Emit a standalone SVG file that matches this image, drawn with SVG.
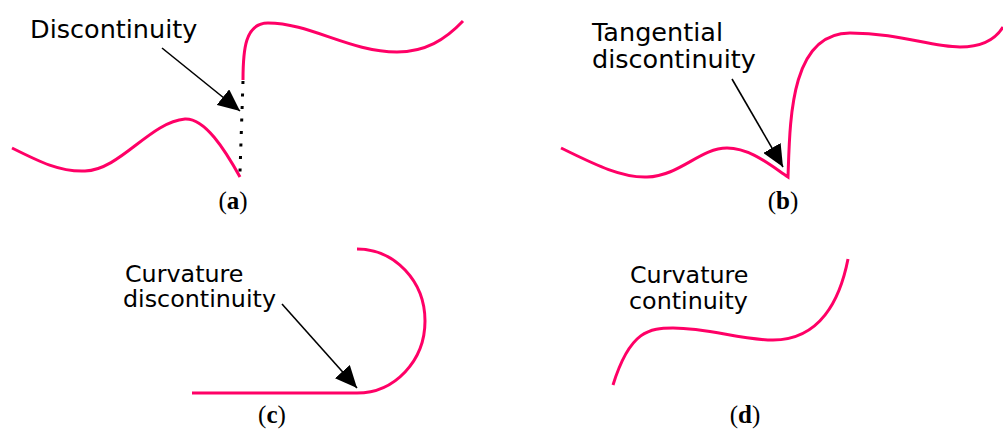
<svg xmlns="http://www.w3.org/2000/svg" width="1003" height="430" viewBox="0 0 1003 430">
<style>
.curve{fill:none;stroke:#ff0066;stroke-width:3;stroke-linecap:butt}
.lbl{font-family:"DejaVu Sans",sans-serif;font-size:25.5px;fill:#000}
.sm{font-size:23.8px}
.cap{font-family:"Liberation Serif",serif;font-size:25px;fill:#000;text-anchor:middle}
.arr{stroke:#000;stroke-width:1.6;fill:none;marker-end:url(#ah)}
</style>
<defs>
<marker id="ah" markerUnits="userSpaceOnUse" markerWidth="24" markerHeight="20" refX="22" refY="10" orient="auto" viewBox="0 0 24 20">
<path d="M0,0 L22,10 L0,20 Z" fill="#000"/>
</marker>
</defs>
<g id="panel-a">
<path class="curve" d="M12,148 C40,162 60,172 85,171 C120,170 150,122 185,119 C205,118 225,150 240,177"/>
<path class="curve" d="M243,80 C243,50 245,23 268,23 C310,23 350,52 397,52 C425,52 445,40 463,21"/>
<path d="M243,81 L240,172" stroke="#000" stroke-width="3" stroke-dasharray="3 9.5" fill="none"/>
<text class="lbl" x="30" y="38">Discontinuity</text>
<text class="cap" x="233" y="209">(<tspan font-weight="bold">a</tspan>)</text>
</g>
<g id="panel-b">
<path class="curve" d="M561,148 C590,162 620,178 647,177 C680,176 700,148 727,148 C750,148 770,165 788,177 C790,120 790,33 850,33 C900,33 930,47 960,47 C980,47 995,40 1003,27"/>
<text class="lbl" x="592" y="41">Tangential</text>
<text class="lbl" x="592" y="68">discontinuity</text>
<text class="cap" x="783" y="209">(<tspan font-weight="bold">b</tspan>)</text>
</g>
<g id="panel-c">
<path class="curve" d="M192,393 L357,393 A68 72 0 0 0 357,249"/>
<text class="lbl sm" x="125" y="282">Curvature</text>
<text class="lbl sm" x="123" y="307">discontinuity</text>
<text class="cap" x="272" y="423">(<tspan font-weight="bold">c</tspan>)</text>
</g>
<g id="panel-d">
<path class="curve" d="M613,385 C630,330 650,328 673,328 C710,328 740,340 773,340 C820,340 840,300 848,259"/>
<text class="lbl sm" x="630" y="283">Curvature</text>
<text class="lbl sm" x="629" y="309">continuity</text>
<text class="cap" x="745" y="423">(<tspan font-weight="bold">d</tspan>)</text>
</g>
<g id="connectors">
<path class="arr" d="M162,48 L240,111"/>
<path class="arr" d="M732,79 L783,167"/>
<path class="arr" d="M282,304 L357,388"/>
</g>
</svg>
